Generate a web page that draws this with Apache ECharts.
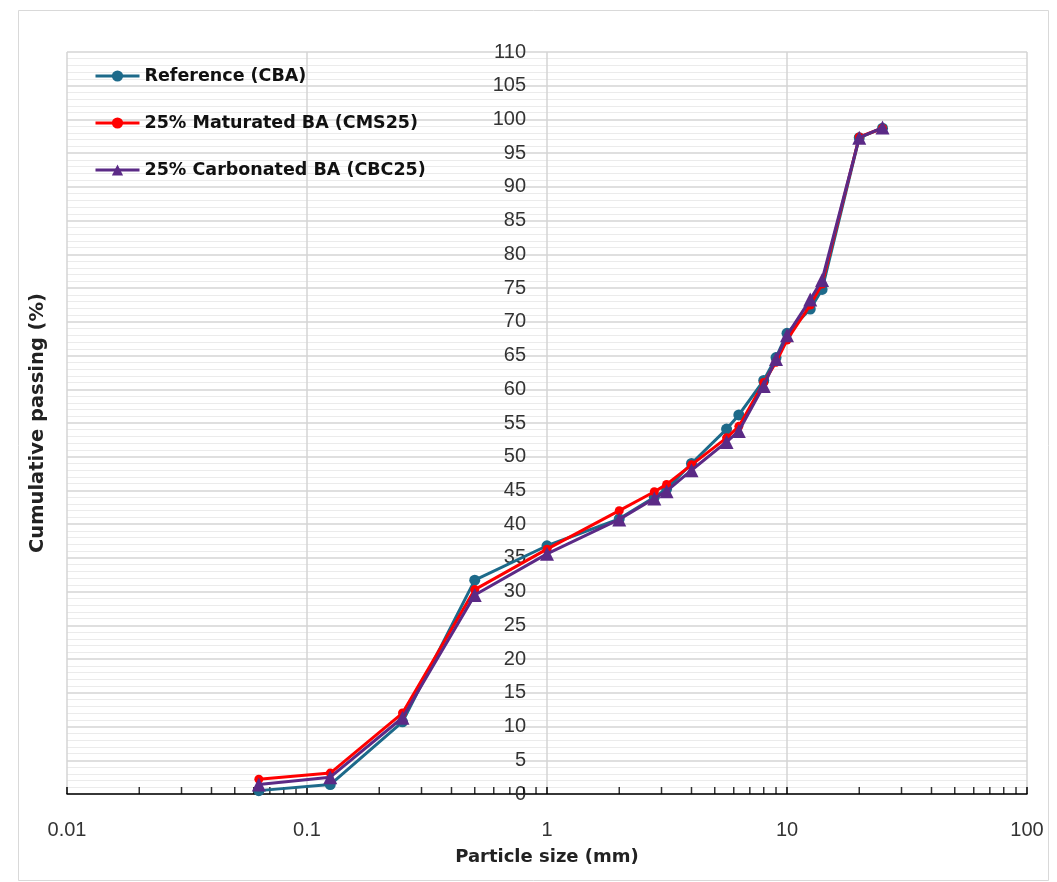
<!DOCTYPE html>
<html>
<head>
<meta charset="utf-8">
<script src="https://cdn.jsdelivr.net/npm/echarts@6/dist/echarts.min.js"></script>
<style>html,body{margin:0;padding:0;background:#fff;}#chart{width:1057px;height:882px;}</style>
</head>
<body>
<div id="chart"></div>
<script>
const sieveSizes = [0.063, 0.125, 0.25, 0.5, 1, 2, 2.8, 3.15, 4, 5.6, 6.3, 8, 9, 10, 12.5, 14, 20, 25];
const refCBA  = [0.5, 1.4, 10.7, 31.7, 36.8, 40.8, 44.0, 45.2, 49.0, 54.1, 56.2, 61.3, 64.7, 68.3, 71.9, 74.8, 97.3, 98.7];
const matCMS25 = [2.2, 3.1, 12.0, 30.3, 36.3, 42.0, 44.8, 45.9, 48.8, 52.8, 54.5, 61.0, 64.0, 67.3, 72.5, 75.6, 97.4, 98.7];
const carbCBC25 = [1.4, 2.5, 11.3, 29.5, 35.6, 40.7, 43.8, 44.9, 48.0, 52.2, 53.8, 60.5, 64.5, 68.0, 73.3, 76.2, 97.3, 98.8];
const seriesNames = ['Reference (CBA)', '25% Maturated BA (CMS25)', '25% Carbonated BA (CBC25)'];
const minorTickValues = [];
[0.01, 0.1, 1, 10].forEach(d => { for (let k = 2; k <= 9; k++) minorTickValues.push(+(d * k).toPrecision(3)); });

const pair = (xs, ys) => xs.map((x, i) => [x, ys[i]]);
const FONT = 'DejaVu Sans';
const TICKFONT = 'Liberation Sans';

const chart = echarts.init(document.getElementById('chart'), null, {renderer: 'canvas'});
chart.setOption({
  animation: false,
  backgroundColor: '#fff',
  textStyle: {fontFamily: FONT},
  graphic: [{
    type: 'rect', left: 16, top: 8, shape: {width: 1030, height: 870},
    style: {fill: 'none', stroke: '#d9d9d9', lineWidth: 1}, silent: true, z: -10
  }],
  grid: {left: 67, right: 30, top: 52, bottom: 88, containLabel: false},
  legend: {
    data: seriesNames,
    orient: 'vertical', left: 89, top: 62,
    itemWidth: 44, itemHeight: 14, itemGap: 29,
    lineStyle: {width: 3},
    textStyle: {fontFamily: FONT, fontSize: 17.5, fontWeight: 'bold', color: '#111'}
  },
  xAxis: {
    type: 'log', logBase: 10, min: 0.01, max: 100,
    name: 'Particle size (mm)', nameLocation: 'middle', nameGap: 54,
    nameTextStyle: {fontFamily: FONT, fontSize: 18, fontWeight: 'bold', color: '#222'},
    axisLine: {show: true, onZero: false, lineStyle: {color: '#000', width: 1.5}},
    axisTick: {show: true, inside: true, length: 7, lineStyle: {color: '#000', width: 1.5}},
    axisLabel: {fontFamily: TICKFONT, fontSize: 20, color: '#333', margin: 26,
      formatter: v => String(+v.toPrecision(3))},
    splitLine: {show: true, lineStyle: {color: '#d4d4d4', width: 1.5}}
  },
  yAxis: {
    type: 'value', min: 0, max: 110, interval: 5,
    offset: -480,
    name: 'Cumulative passing (%)', nameLocation: 'middle', nameGap: 499, nameRotate: 90,
    nameTextStyle: {fontFamily: FONT, fontSize: 19.5, fontWeight: 'bold', color: '#222'},
    axisLine: {show: false},
    axisTick: {show: false},
    axisLabel: {fontFamily: TICKFONT, fontSize: 20, color: '#333', margin: 21},
    splitLine: {show: true, lineStyle: {color: '#d4d4d4', width: 1.5}},
    minorTick: {show: false, splitNumber: 5},
    minorSplitLine: {show: true, lineStyle: {color: '#ebebeb', width: 1}}
  },
  series: [
    {
      name: 'minor ticks', type: 'scatter', data: minorTickValues.map(v => [v, 0]),
      symbol: 'rect', symbolSize: [1.5, 7], symbolOffset: [0, -3.5],
      itemStyle: {color: '#000'}, silent: true, clip: false, z: 1
    },
    {
      name: seriesNames[0], type: 'line', data: pair(sieveSizes, refCBA),
      symbol: 'circle', symbolSize: 11,
      lineStyle: {color: '#1d6a8a', width: 3}, itemStyle: {color: '#1d6a8a'}, z: 2
    },
    {
      name: seriesNames[1], type: 'line', data: pair(sieveSizes, matCMS25),
      symbol: 'circle', symbolSize: 9,
      lineStyle: {color: '#ff0000', width: 3}, itemStyle: {color: '#ff0000'}, z: 3
    },
    {
      name: seriesNames[2], type: 'line', data: pair(sieveSizes, carbCBC25),
      symbol: 'triangle', symbolSize: 14,
      lineStyle: {color: '#5b2a86', width: 3}, itemStyle: {color: '#5b2a86'}, z: 4
    }
  ]
});
</script>
</body>
</html>
